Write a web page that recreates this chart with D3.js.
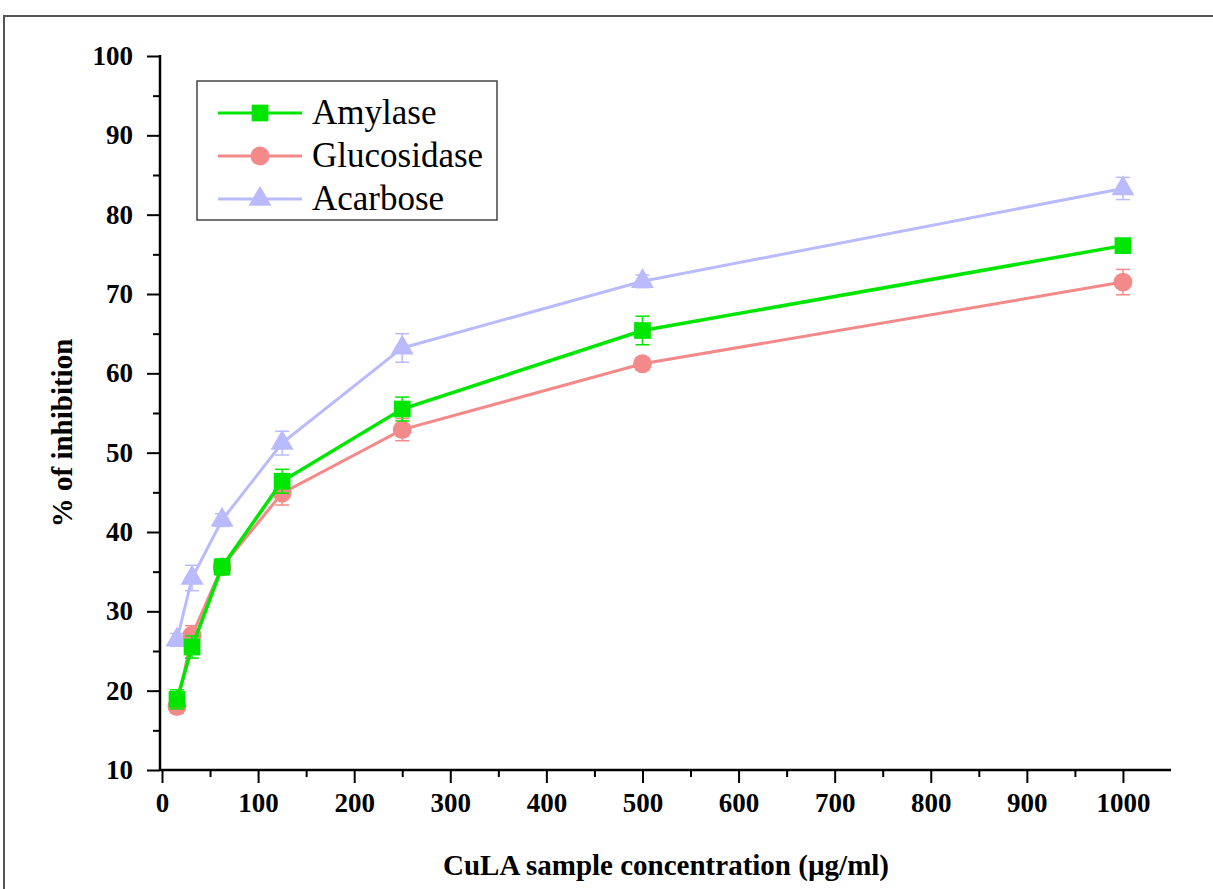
<!DOCTYPE html>
<meta charset="utf-8">
<style type="text/css">
	body { margin: 0; background: #fff; }
	svg { display: block; }
	.tick text { font-family: "Liberation Serif", "Times New Roman", serif; font-weight: bold; }
	.title { font-family: "Liberation Serif", "Times New Roman", serif; font-weight: bold; }
	.legend text { font-family: "Liberation Serif", "Times New Roman", serif; }
</style>
<svg width="1213" height="889"></svg>
<script src="https://d3js.org/d3.v7.min.js"></script>
<script type="text/javascript">
	// concentrations (µg/ml)
	var conc = [15.6, 31.25, 62.5, 125, 250, 500, 1000];

	var amylase = [18.9, 25.5, 35.6, 46.4, 55.5, 65.4, 76.1];
	var amylaseErr = [1.2, 1.4, 1.0, 1.5, 1.5, 1.8, 0.8];

	var glucosidase = [18.0, 27.0, 35.6, 44.9, 52.9, 61.2, 71.5];
	var glucosidaseErr = [0.8, 1.2, 0.8, 1.5, 1.4, 0.8, 1.6];

	var acarbose = [26.4, 34.2, 41.5, 51.2, 63.2, 71.6, 83.3];
	var acarboseErr = [0.8, 1.6, 0.8, 1.5, 1.8, 0.8, 1.4];

	var seriesNames = ["Amylase", "Glucosidase", "Acarbose"];
	var seriesColors = ["#00e600", "#f4898a", "#babaff"];
	var seriesShapes = [d3.symbolSquare, d3.symbolCircle, d3.symbolTriangle];

	var xTicks = [0, 100, 200, 300, 400, 500, 600, 700, 800, 900, 1000];
	var yTicks = [10, 20, 30, 40, 50, 60, 70, 80, 90, 100];

	var svg = d3.select("svg"),
		width = +svg.attr("width"),
		height = +svg.attr("height");

	// outer frame (only top and left edges visible)
	svg.append("path").attr("d", "M4," + height + "V16H" + width)
		.attr("fill", "none").attr("stroke", "#555").attr("stroke-width", 2);

	var x = d3.scaleLinear().domain([0, 1050]).range([162, 1171]);
	var y = d3.scaleLinear().domain([10, 100]).range([770, 56]);

	// minor ticks
	svg.append("g").attr("transform", "translate(0,770)")
		.call(d3.axisBottom(x).tickValues(d3.range(50, 1050, 100)).tickSize(7).tickFormat(""))
		.call(function(g){ g.select(".domain").remove(); })
		.selectAll("line").attr("stroke", "#000").attr("stroke-width", 2);
	svg.append("g").attr("transform", "translate(160,0)")
		.call(d3.axisLeft(y).tickValues(d3.range(15, 100, 10)).tickSize(7).tickFormat(""))
		.call(function(g){ g.select(".domain").remove(); })
		.selectAll("line").attr("stroke", "#000").attr("stroke-width", 2);

	var xAxis = svg.append("g").attr("transform", "translate(0,770)")
		.call(d3.axisBottom(x).tickValues(xTicks).tickFormat(d3.format("d")).tickSize(13).tickPadding(10).tickSizeOuter(0));
	xAxis.select(".domain").attr("stroke-width", 2.5).attr("d", "M160,0H1171");
	xAxis.selectAll("line").attr("stroke-width", 2);
	xAxis.selectAll("text").attr("font-size", 27).attr("fill", "#000");

	var yAxis = svg.append("g").attr("transform", "translate(160,0)")
		.call(d3.axisLeft(y).tickValues(yTicks).tickSize(13).tickPadding(14).tickSizeOuter(0));
	yAxis.select(".domain").attr("stroke-width", 2.5).attr("d", "M0,770V55");
	yAxis.selectAll("line").attr("stroke-width", 2);
	yAxis.selectAll("text").attr("font-size", 27).attr("fill", "#000");

	svg.append("text").attr("class", "title")
		.attr("x", 666).attr("y", 875).attr("text-anchor", "middle")
		.attr("font-size", 29).text("CuLA sample concentration (µg/ml)");

	svg.append("text").attr("class", "title")
		.attr("transform", "translate(72,433)rotate(-90)").attr("text-anchor", "middle")
		.attr("font-size", 29).text("% of inhibition");

	var allValues = [amylase, glucosidase, acarbose];
	var allErr = [amylaseErr, glucosidaseErr, acarboseErr];

	var line = d3.line().x(function(d){ return x(d[0]); }).y(function(d){ return y(d[1]); });

	// draw back to front: acarbose, glucosidase, amylase
	[2, 1, 0].forEach(function(s){
		var data = conc.map(function(c, i){ return [c, allValues[s][i], allErr[s][i]]; });
		var g = svg.append("g");
		var col = seriesColors[s];

		g.append("path").datum(data).attr("d", line)
			.attr("fill", "none").attr("stroke", col).attr("stroke-width", s === 0 ? 3.5 : 3);

		var eb = g.selectAll(".err").data(data).enter().append("g");
		eb.append("line")
			.attr("x1", function(d){ return x(d[0]); }).attr("x2", function(d){ return x(d[0]); })
			.attr("y1", function(d){ return y(d[1] - d[2]); }).attr("y2", function(d){ return y(d[1] + d[2]); })
			.attr("stroke", col).attr("stroke-width", 1.5);
		[-1, 1].forEach(function(sign){
			eb.append("line")
				.attr("x1", function(d){ return x(d[0]) - 7; }).attr("x2", function(d){ return x(d[0]) + 7; })
				.attr("y1", function(d){ return y(d[1] + sign * d[2]); }).attr("y2", function(d){ return y(d[1] + sign * d[2]); })
				.attr("stroke", col).attr("stroke-width", 1.5);
		});

		g.selectAll(".pt").data(data).enter().append("path")
			.attr("transform", function(d){ return "translate(" + x(d[0]) + "," + y(d[1]) + ")"; })
			.attr("d", d3.symbol().type(seriesShapes[s]).size(s === 2 ? 230 : 280))
			.attr("fill", col);
	});

	// legend
	var legend = svg.append("g").attr("class", "legend");
	legend.append("rect").attr("x", 197).attr("y", 81).attr("width", 300).attr("height", 139)
		.attr("fill", "#fff").attr("stroke", "#444").attr("stroke-width", 1.5);
	seriesNames.forEach(function(name, i){
		var ly = 113 + i * 43;
		legend.append("line").attr("x1", 218).attr("x2", 302).attr("y1", ly).attr("y2", ly)
			.attr("stroke", seriesColors[i]).attr("stroke-width", 3);
		legend.append("path").attr("transform", "translate(260," + ly + ")")
			.attr("d", d3.symbol().type(seriesShapes[i]).size(i === 2 ? 230 : 280))
			.attr("fill", seriesColors[i]);
		legend.append("text").attr("x", 312).attr("y", ly + 11).attr("font-size", 35).text(name);
	});
</script>
